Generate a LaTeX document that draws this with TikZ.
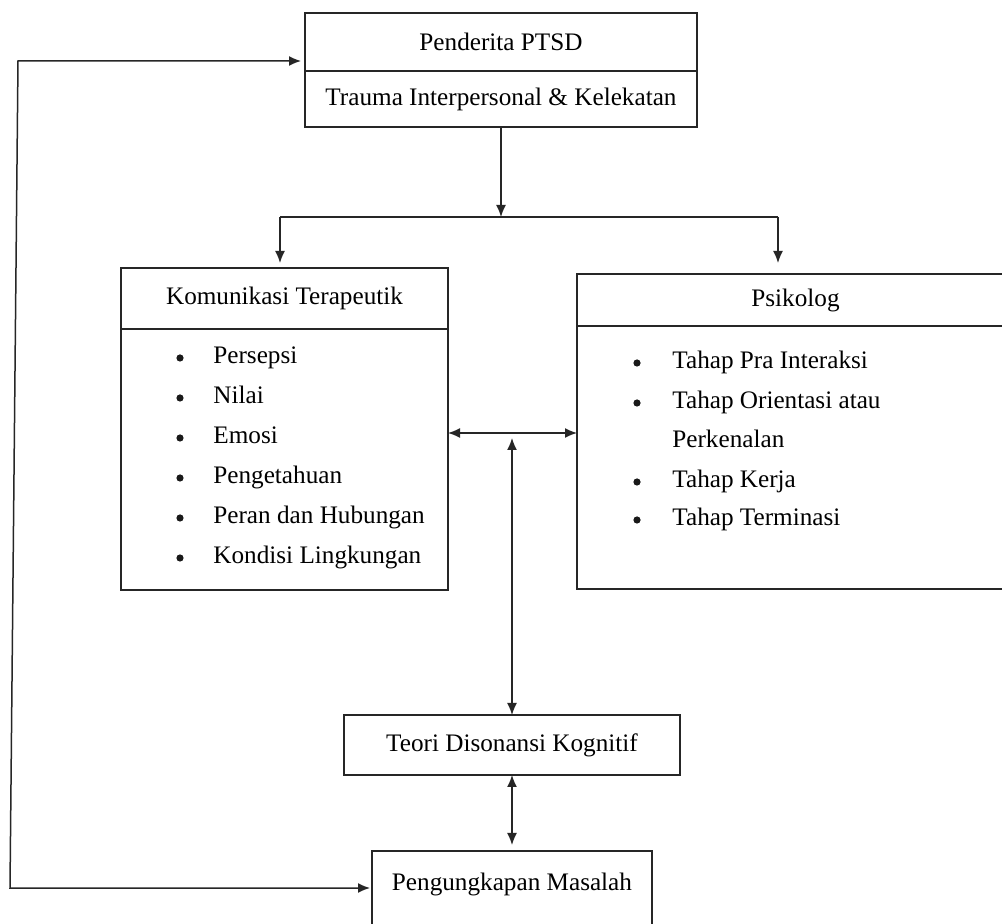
\documentclass[tikz,border=0pt]{standalone}
\usepackage{fontspec}
\setmainfont{Liberation Serif}
\usepackage{tikz}
\usetikzlibrary{arrows.meta,positioning}

\tikzset{
  box/.style={draw=black!85, line width=0.8pt, inner sep=0pt, outer sep=0pt, font=\fontsize{12.6}{15}\selectfont},
  listitem/.style={anchor=base west, inner sep=0pt, font=\fontsize{12.6}{15}\selectfont},
  itemdot/.style={circle, fill=black!90, inner sep=0pt, minimum size=3.6pt},
  arr/.style={-{Latex[length=6pt,width=5pt]}, line width=0.75pt, draw=black!85},
  arr2/.style={{Latex[length=6pt,width=5pt]}-{Latex[length=6pt,width=5pt]}, line width=0.75pt, draw=black!85}
}

\begin{document}
\begin{tikzpicture}[x=0.5pt, y=-0.5pt]
        % page in pixels of the reference
        \useasboundingbox (0,0) rectangle (1002,924);
        \fill[white] (0,0) rectangle (1002,924);

        % top box
        \node[box, minimum width=196pt, minimum height=29pt] (ptsd) at (501,42) {Penderita PTSD};
        \node[box, minimum width=196pt, minimum height=28pt, below=0pt of ptsd] (trauma) {Trauma Interpersonal \& Kelekatan};

        % left box
        \node[box, minimum width=163.5pt, minimum height=30.5pt] (komhead) at (284.5,298.5) {Komunikasi Terapeutik};
        \node[box, minimum width=163.5pt, minimum height=130.5pt, below=0pt of komhead] (kombody) {};
        \foreach \t [count=\i] in {Persepsi, Nilai, Emosi, Pengetahuan, Peran dan Hubungan, Kondisi Lingkungan} {
            \node[itemdot] (komdot\i) at (180,318+40*\i) {};
            \node[listitem] (kom\i) at (213,324+40*\i) {\t};
        }

        % right box, cut by the page edge
        \node[box, minimum width=218.5pt, minimum height=26pt] (psihead) at (795.5,300) {Psikolog};
        \node[box, minimum width=218.5pt, minimum height=131.5pt, below=0pt of psihead] (psibody) {};
        \foreach \y/\t [count=\i] in {363/Tahap Pra Interaksi, 403/Tahap Orientasi atau, 442/Perkenalan, 482/Tahap Kerja, 520/Tahap Terminasi}
            \node[listitem] (psi\i) at (672,\y+6) {\t};
        \foreach \y [count=\i] in {363,403,482,520}
            \node[itemdot] (psidot\i) at (637,\y) {};

        % lower boxes
        \node[box, minimum width=168pt, minimum height=30pt] (teori) at (512,745) {Teori Disonansi Kognitif};
        \node[box, minimum width=140pt, text height=20pt, text depth=29pt, anchor=base] (ungkap) at (512,891) {Pengungkapan Masalah};

        % connectors
        \coordinate (split) at (501,217);
        \coordinate (brL) at (280,217);
        \coordinate (brR) at (778,217);
        \coordinate (hub) at (512,433);
        \coordinate (loopT) at (18,61);
        \coordinate (loopB) at (10,888);

        \draw[arr] (trauma.south) -- (split);
        \draw[line width=0.75pt, black!85] (brL) -- (brR);
        \draw[arr, shorten >=2.5pt] (brL) -- (brL |- komhead.north);
        \draw[arr, shorten >=5.5pt] (brR) -- (brR |- psihead.north);
        \draw[arr2] (kombody.east |- hub) -- (psibody.west |- hub);
        \draw[arr2, shorten <=2.5pt] (hub) -- (teori.north);
        \draw[arr2, shorten >=3pt] (teori.south) -- (ungkap.north);
        \draw[arr2, shorten <=2pt, shorten >=1pt] (ptsd.west |- loopT) -- (loopT) -- (loopB) -- (ungkap.west |- loopB);
    \end{tikzpicture}
\end{document}
